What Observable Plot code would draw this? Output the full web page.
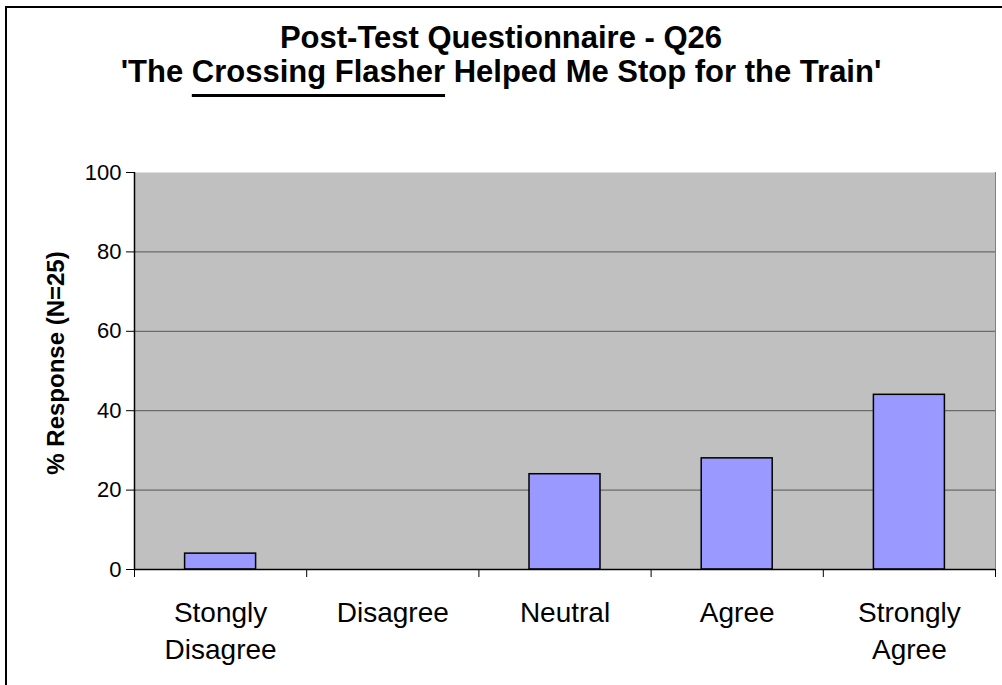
<!DOCTYPE html>
<html>
<head>
<meta charset="utf-8">
<script src="https://cdn.jsdelivr.net/npm/d3@7"></script>
<script src="https://cdn.jsdelivr.net/npm/@observablehq/plot@0.6"></script>
<style>
  html, body { margin: 0; padding: 0; background: #fff; }
  #chart { width: 1002px; height: 685px; position: relative; }
  svg { display: block; }
</style>
</head>
<body>
<div id="chart"></div>
<script>
// ---- data ----
const categories = ["Stongly\nDisagree", "Disagree", "Neutral", "Agree", "Strongly\nAgree"];
const responses = [4, 0, 24, 28, 44];
const yTicks = [0, 20, 40, 60, 80, 100];
const titleLine1 = "Post-Test Questionnaire - Q26";
const titleLine2Parts = ["'The ", "Crossing Flasher", " Helped Me Stop for the Train'"];
const yLabel = "% Response (N=25)";

const data = categories.map((c, i) => ({cat: c, i, value: responses[i]}));
const boundaries = d3.range(categories.length + 1);

const font = "'Liberation Sans', Arial, sans-serif";

const plot = Plot.plot({
  width: 1002,
  height: 685,
  marginLeft: 134,
  marginRight: 7,
  marginTop: 172,
  marginBottom: 116,
  style: {fontFamily: font, background: "#fff", color: "#000"},
  x: {type: "linear", domain: [0, categories.length], axis: null},
  y: {domain: [0, 100], axis: null},
  marks: [
    Plot.frame({fill: "#C0C0C0", stroke: null}),
    Plot.ruleY(yTicks.filter(d => d > 0 && d < 100), {stroke: "#555", strokeWidth: 1}),
    Plot.ruleX([categories.length], {stroke: "#808080", strokeWidth: 1}),
    Plot.rectY(data, {
      x1: d => d.i, x2: d => d.i + 1, y1: 0, y2: "value",
      insetLeft: 50.6, insetRight: 50.6,
      fill: "#9999FF", stroke: "#000", strokeWidth: 1.5
    }),
    Plot.ruleY([0], {stroke: "#000", strokeWidth: 1.5}),
    Plot.ruleX([0], {stroke: "#000", strokeWidth: 1.5}),
    Plot.axisY({ticks: yTicks, tickSize: 8, tickPadding: 5, fontSize: 22, label: null, stroke: "#000"}),
    Plot.axisX({ticks: boundaries, tickSize: 8, tickFormat: () => "", label: null, stroke: "#000"}),
    Plot.text(data, {
      x: d => d.i + 0.5, text: "cat", frameAnchor: "bottom",
      lineAnchor: "top", lineHeight: 1.32, dy: 26,
      fontSize: 28, fill: "#000", textAnchor: "middle"
    }),
    Plot.text([yLabel], {
      frameAnchor: "left", rotate: -90, dx: -71, dy: -8, lineAnchor: "bottom",
      fontSize: 24, fontWeight: "bold", fill: "#000", textAnchor: "middle"
    })
  ]
});

document.getElementById("chart").appendChild(plot);

const svg = d3.select(plot);
// Title
const title = svg.append("g").attr("font-family", font).attr("font-weight", "bold")
  .attr("font-size", 31).attr("text-anchor", "middle").attr("fill", "#000");
title.append("text").attr("x", 501).attr("y", 48).text(titleLine1);
const t2 = title.append("text").attr("x", 501).attr("y", 82);
titleLine2Parts.forEach(p => t2.append("tspan").text(p));
// underline under the middle part
const tnode = t2.node();
const start = tnode.getStartPositionOfChar(titleLine2Parts[0].length);
const endIdx = titleLine2Parts[0].length + titleLine2Parts[1].length - 1;
const end = tnode.getEndPositionOfChar(endIdx);
svg.append("line").attr("x1", start.x).attr("x2", end.x).attr("y1", 95.5).attr("y2", 95.5)
  .attr("stroke", "#000").attr("stroke-width", 3);

// outer border
svg.append("path").attr("d", "M6,685V7H1002").attr("fill", "none").attr("stroke", "#000").attr("stroke-width", 2);
</script>
</body>
</html>
